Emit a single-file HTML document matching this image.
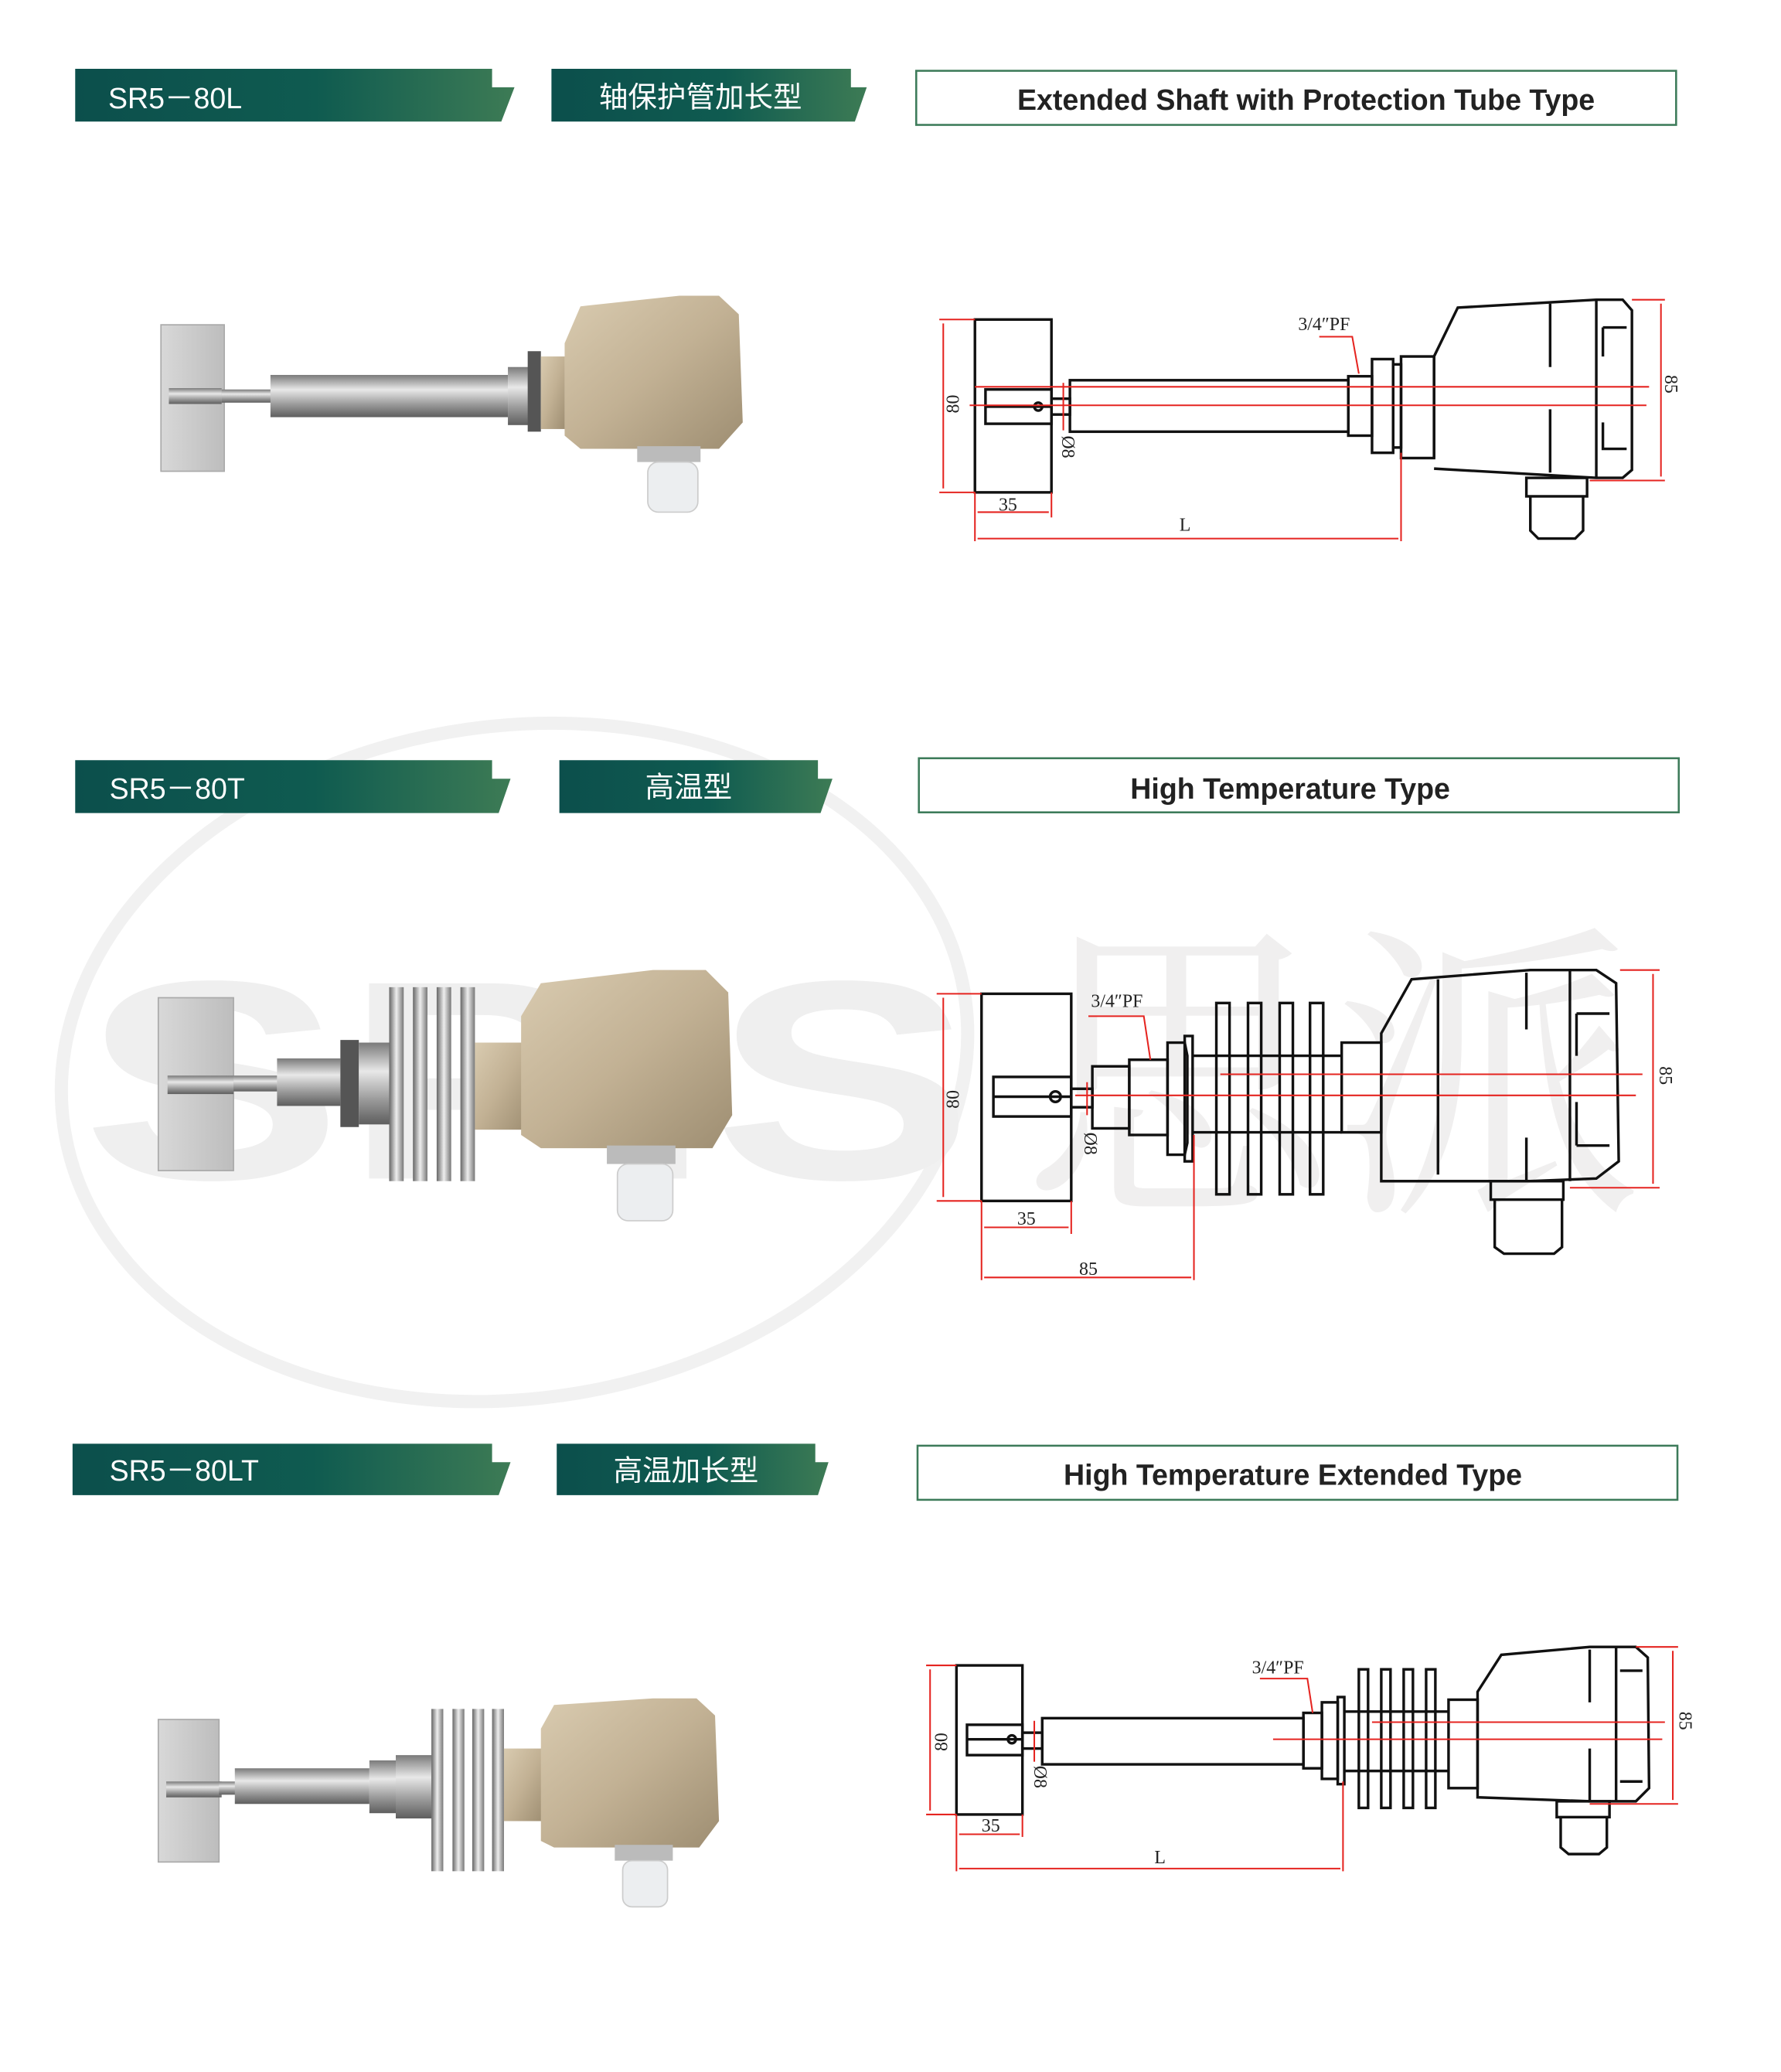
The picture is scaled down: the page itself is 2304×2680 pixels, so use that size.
<!DOCTYPE html>
<html><head><meta charset="utf-8"><style>
html,body{margin:0;padding:0;background:#fff;}
svg{display:block;}
.t{font-family:"Liberation Serif",serif;font-size:14px;fill:#222;}
</style></head><body>
<svg width="2304" height="2680" viewBox="0 0 1350 1570" xmlns="http://www.w3.org/2000/svg">
<defs>
<linearGradient id="bn" x1="0" x2="1" y1="0" y2="0"><stop offset="0" stop-color="#0c4f4c"/><stop offset="0.55" stop-color="#0f5b50"/><stop offset="1" stop-color="#3d7b55"/></linearGradient>
<linearGradient id="kh" x1="0" x2="1" y1="0" y2="1"><stop offset="0" stop-color="#d9cbb0"/><stop offset="0.5" stop-color="#c2b194"/><stop offset="1" stop-color="#9e8e72"/></linearGradient>
<linearGradient id="met" x1="0" x2="0" y1="0" y2="1"><stop offset="0" stop-color="#7a7a7a"/><stop offset="0.35" stop-color="#e8e8e8"/><stop offset="0.7" stop-color="#9a9a9a"/><stop offset="1" stop-color="#5e5e5e"/></linearGradient>
<linearGradient id="fin" x1="0" x2="1" y1="0" y2="0"><stop offset="0" stop-color="#666"/><stop offset="0.5" stop-color="#eee"/><stop offset="1" stop-color="#777"/></linearGradient>
<linearGradient id="pl" x1="0" x2="1"><stop offset="0" stop-color="#d8d8d8"/><stop offset="1" stop-color="#bdbdbd"/></linearGradient>
</defs>

<!-- watermark -->
<ellipse cx="390" cy="805" rx="345" ry="255" fill="none" stroke="#f1f1f1" stroke-width="10" transform="rotate(-8 390 805)"/>
<text transform="translate(62,893) scale(1.38,1)" font-family="Liberation Sans,sans-serif" font-weight="bold" font-size="215" fill="#efefef">SPIS</text>
<text x="775" y="900" font-family="Noto Serif CJK SC,serif" font-size="235" fill="#f0efef">思派</text>

<!-- banners -->
<g font-family="Liberation Sans,Noto Sans CJK SC,sans-serif" font-size="22" fill="#fff">
<polygon points="57,52 373,52 373,66 390,66 380,92 57,92" fill="url(#bn)"/><text x="82" y="82">SR5－80L</text>
<polygon points="418,52 645,52 645,66 657,66 648,92 418,92" fill="url(#bn)"/><text x="531" y="81" text-anchor="middle">轴保护管加长型</text>
<polygon points="57,576 373,576 373,590 387,590 378,616 57,616" fill="url(#bn)"/><text x="83" y="605">SR5－80T</text>
<polygon points="424,576 620,576 620,590 631,590 622,616 424,616" fill="url(#bn)"/><text x="522" y="604" text-anchor="middle">高温型</text>
<polygon points="55,1094 373,1094 373,1108 387,1108 378,1133 55,1133" fill="url(#bn)"/><text x="83" y="1122">SR5－80LT</text>
<polygon points="422,1094 618,1094 618,1108 628,1108 620,1133 422,1133" fill="url(#bn)"/><text x="520" y="1122" text-anchor="middle">高温加长型</text>
</g>
<g font-family="Liberation Sans,sans-serif" font-weight="bold" font-size="22" fill="#222" text-anchor="middle">
<rect x="694.5" y="53.5" width="576" height="41" fill="#fff" stroke="#3d7b5a" stroke-width="1.5"/><text x="990" y="83">Extended Shaft with Protection Tube Type</text>
<rect x="696.5" y="574.5" width="576" height="41" fill="#fff" stroke="#3d7b5a" stroke-width="1.5"/><text x="978" y="605">High Temperature Type</text>
<rect x="695.5" y="1095.5" width="576" height="41" fill="#fff" stroke="#3d7b5a" stroke-width="1.5"/><text x="980" y="1125">High Temperature Extended Type</text>
</g>

<!-- photo 1 -->
<rect x="122" y="246" width="48" height="111" fill="url(#pl)" stroke="#aaa"/>
<rect x="128" y="294" width="40" height="12" fill="url(#met)"/>
<rect x="168" y="295" width="40" height="10" fill="url(#met)"/>
<rect x="205" y="284" width="180" height="32" fill="url(#met)"/>
<rect x="385" y="278" width="16" height="44" fill="url(#met)"/>
<rect x="400" y="266" width="10" height="61" fill="#555"/>
<rect x="410" y="270" width="18" height="55" fill="url(#kh)"/>
<path d="M428,330 L428,260 L440,232 L515,224 L545,224 L560,238 L563,320 L545,340 L440,340 Z" fill="url(#kh)"/>
<rect x="483" y="338" width="48" height="12" fill="#bbb"/>
<rect x="491" y="350" width="38" height="38" rx="8" fill="#eceef0" stroke="#ccc"/>

<!-- photo 2 -->
<rect x="120" y="756" width="57" height="131" fill="url(#pl)" stroke="#aaa"/>
<rect x="127" y="815" width="50" height="14" fill="url(#met)"/>
<rect x="177" y="815" width="33" height="12" fill="url(#met)"/>
<rect x="210" y="802" width="48" height="36" fill="url(#met)"/>
<rect x="258" y="788" width="14" height="66" fill="#555"/>
<rect x="272" y="790" width="25" height="62" fill="url(#met)"/>
<g fill="url(#fin)"><rect x="295" y="748" width="11" height="147"/><rect x="313" y="748" width="11" height="147"/><rect x="331" y="748" width="11" height="147"/><rect x="349" y="748" width="11" height="147"/></g>
<rect x="360" y="790" width="40" height="66" fill="url(#kh)"/>
<path d="M395,860 L395,770 L410,745 L495,735 L535,735 L552,752 L555,845 L540,870 L410,870 Z" fill="url(#kh)"/>
<rect x="460" y="868" width="52" height="14" fill="#bbb"/>
<rect x="468" y="882" width="42" height="43" rx="8" fill="#eceef0" stroke="#ccc"/>

<!-- photo 3 -->
<rect x="120" y="1303" width="46" height="108" fill="url(#pl)" stroke="#aaa"/>
<rect x="126" y="1350" width="42" height="12" fill="url(#met)"/>
<rect x="166" y="1350" width="14" height="10" fill="url(#met)"/>
<rect x="178" y="1340" width="102" height="27" fill="url(#met)"/>
<rect x="280" y="1334" width="20" height="40" fill="url(#met)"/>
<rect x="300" y="1330" width="27" height="48" fill="url(#met)"/>
<g fill="url(#fin)"><rect x="327" y="1295" width="9" height="123"/><rect x="343" y="1295" width="9" height="123"/><rect x="358" y="1295" width="9" height="123"/><rect x="373" y="1295" width="9" height="123"/></g>
<rect x="382" y="1325" width="30" height="55" fill="url(#kh)"/>
<path d="M410,1395 L410,1310 L420,1292 L495,1287 L528,1287 L542,1300 L545,1380 L530,1400 L420,1400 Z" fill="url(#kh)"/>
<rect x="466" y="1398" width="44" height="12" fill="#bbb"/>
<rect x="472" y="1410" width="34" height="35" rx="7" fill="#eceef0" stroke="#ccc"/>

<!-- drawing 1 -->
<g fill="none" stroke="#111" stroke-width="2">
<rect x="739" y="242" width="58" height="131"/>
<rect x="747" y="295" width="50" height="26"/><line x1="747" y1="308" x2="797" y2="308"/>
<circle cx="787" cy="308" r="3"/>
<rect x="797" y="302" width="14" height="12"/>
<rect x="811" y="288" width="211" height="39"/>
<rect x="1022" y="285" width="18" height="45"/>
<rect x="1040" y="272" width="16" height="71"/><rect x="1056" y="276" width="6" height="63"/>
<rect x="1062" y="270" width="25" height="77"/>
<path d="M1087,347 L1087,270 L1105,233 L1210,227 L1230,227 L1237,235 L1237,356 L1230,362 L1210,362 L1087,355"/>
<line x1="1175" y1="230" x2="1175" y2="278"/><line x1="1175" y1="310" x2="1175" y2="358"/>
<line x1="1210" y1="227" x2="1210" y2="362"/>
<path d="M1215,248 L1233,248 M1215,270 L1215,248 M1215,320 L1215,340 L1233,340"/>
<rect x="1157" y="362" width="46" height="14"/>
<path d="M1160,376 L1160,402 L1166,408 L1194,408 L1200,402 L1200,376"/>
</g>
<g stroke="#e52420" stroke-width="1.2" fill="#e52420">
<line x1="739" y1="293" x2="1250" y2="293"/><line x1="735" y1="307" x2="1248" y2="307"/>
<line x1="712" y1="242" x2="739" y2="242"/><line x1="712" y1="373" x2="739" y2="373"/>
<line x1="715" y1="245" x2="715" y2="370"/>
<line x1="1237" y1="227" x2="1262" y2="227"/><line x1="1205" y1="364" x2="1262" y2="364"/>
<line x1="1259" y1="230" x2="1259" y2="361"/>
<line x1="739" y1="373" x2="739" y2="410"/><line x1="797" y1="373" x2="797" y2="392"/>
<line x1="1062" y1="343" x2="1062" y2="410"/>
<line x1="741" y1="388" x2="795" y2="388"/><line x1="741" y1="408" x2="1060" y2="408"/>
<polyline points="1000,255 1025,255 1030,283" fill="none"/>
<line x1="806" y1="290" x2="806" y2="326"/>
</g>
<text class="t" x="984" y="250">3/4″PF</text>
<text class="t" x="757" y="387">35</text>
<text class="t" x="894" y="402">L</text>
<text class="t" transform="translate(727,313) rotate(-90)">80</text>
<text class="t" transform="translate(1262,284) rotate(90)">85</text>
<text class="t" transform="translate(805,330) rotate(90)">Ø8</text>

<!-- drawing 2 -->
<g fill="none" stroke="#111" stroke-width="2">
<rect x="744" y="753" width="68" height="157"/>
<rect x="753" y="816" width="59" height="30"/><line x1="753" y1="831" x2="812" y2="831"/>
<circle cx="800" cy="831" r="4"/>
<rect x="812" y="825" width="16" height="14"/>
<rect x="828" y="808" width="28" height="47"/>
<rect x="856" y="803" width="29" height="57"/>
<path d="M885,790 L898,790 L900,800 L900,866 L898,875 L885,875 Z"/>
<rect x="898" y="785" width="6" height="95"/>
<line x1="904" y1="800" x2="1017" y2="800"/><line x1="904" y1="858" x2="1017" y2="858"/>
<rect x="922" y="760" width="10" height="145"/><rect x="946" y="760" width="10" height="145"/><rect x="970" y="760" width="10" height="145"/><rect x="993" y="760" width="10" height="145"/>
<rect x="1017" y="790" width="30" height="68"/>
<path d="M1047,895 L1047,783 L1070,742 L1160,735 L1210,735 L1225,745 L1227,880 L1210,893 L1160,895 Z"/>
<line x1="1090" y1="742" x2="1090" y2="890"/><line x1="1157" y1="737" x2="1157" y2="780"/><line x1="1157" y1="862" x2="1157" y2="895"/>
<line x1="1190" y1="735" x2="1190" y2="895"/>
<path d="M1195,768 L1220,768 M1195,868 L1220,868 M1195,768 L1195,800 M1195,835 L1195,868"/>
<rect x="1130" y="895" width="55" height="14"/>
<path d="M1133,909 L1133,945 L1140,950 L1178,950 L1184,945 L1184,909"/>
</g>
<g stroke="#e52420" stroke-width="1.2" fill="#e52420">
<line x1="925" y1="814" x2="1245" y2="814"/><line x1="815" y1="830" x2="1240" y2="830"/>
<line x1="710" y1="753" x2="744" y2="753"/><line x1="710" y1="910" x2="744" y2="910"/>
<line x1="715" y1="756" x2="715" y2="907"/>
<line x1="1228" y1="735" x2="1258" y2="735"/><line x1="1190" y1="900" x2="1258" y2="900"/>
<line x1="1253" y1="738" x2="1253" y2="897"/>
<line x1="744" y1="910" x2="744" y2="970"/><line x1="812" y1="910" x2="812" y2="935"/>
<line x1="905" y1="860" x2="905" y2="970"/>
<line x1="746" y1="930" x2="810" y2="930"/><line x1="746" y1="968" x2="903" y2="968"/>
<polyline points="825,770 867,770 872,803" fill="none"/>
<line x1="824" y1="820" x2="824" y2="845"/>
</g>
<text class="t" x="827" y="763">3/4″PF</text>
<text class="t" x="771" y="928">35</text>
<text class="t" x="818" y="966">85</text>
<text class="t" transform="translate(727,840) rotate(-90)">80</text>
<text class="t" transform="translate(1258,808) rotate(90)">85</text>
<text class="t" transform="translate(822,858) rotate(90)">Ø8</text>

<!-- drawing 3 -->
<g fill="none" stroke="#111" stroke-width="2">
<rect x="725" y="1262" width="50" height="113"/>
<rect x="733" y="1307" width="42" height="23"/><line x1="733" y1="1318" x2="775" y2="1318"/>
<circle cx="767" cy="1318" r="3"/>
<rect x="775" y="1313" width="15" height="12"/>
<rect x="790" y="1302" width="198" height="35"/>
<rect x="988" y="1298" width="14" height="42"/>
<rect x="1002" y="1290" width="12" height="58"/><rect x="1014" y="1286" width="5" height="66"/>
<line x1="1019" y1="1297" x2="1098" y2="1297"/><line x1="1019" y1="1342" x2="1098" y2="1342"/>
<rect x="1030" y="1265" width="7" height="105"/><rect x="1047" y="1265" width="7" height="105"/><rect x="1064" y="1265" width="7" height="105"/><rect x="1081" y="1265" width="7" height="105"/>
<rect x="1098" y="1288" width="22" height="67"/>
<path d="M1120,1362 L1120,1282 L1138,1254 L1205,1248 L1240,1248 L1249,1256 L1250,1355 L1240,1365 L1205,1365 Z"/>
<line x1="1205" y1="1250" x2="1205" y2="1290"/><line x1="1205" y1="1325" x2="1205" y2="1365"/>
<line x1="1225" y1="1248" x2="1225" y2="1365"/>
<path d="M1228,1266 L1245,1266 M1228,1350 L1245,1350"/>
<rect x="1180" y="1365" width="40" height="12"/>
<path d="M1183,1377 L1183,1400 L1189,1405 L1212,1405 L1218,1400 L1218,1377"/>
</g>
<g stroke="#e52420" stroke-width="1.2" fill="#e52420">
<line x1="1040" y1="1305" x2="1262" y2="1305"/><line x1="965" y1="1318" x2="1260" y2="1318"/>
<line x1="702" y1="1262" x2="725" y2="1262"/><line x1="702" y1="1375" x2="725" y2="1375"/>
<line x1="705" y1="1265" x2="705" y2="1372"/>
<line x1="1240" y1="1248" x2="1272" y2="1248"/><line x1="1205" y1="1367" x2="1272" y2="1367"/>
<line x1="1268" y1="1251" x2="1268" y2="1364"/>
<line x1="725" y1="1375" x2="725" y2="1418"/><line x1="775" y1="1375" x2="775" y2="1392"/>
<line x1="1018" y1="1350" x2="1018" y2="1418"/>
<line x1="727" y1="1390" x2="773" y2="1390"/><line x1="727" y1="1416" x2="1016" y2="1416"/>
<polyline points="955,1272 991,1272 995,1298" fill="none"/>
<line x1="784" y1="1304" x2="784" y2="1335"/>
</g>
<text class="t" x="949" y="1268">3/4″PF</text>
<text class="t" x="744" y="1388">35</text>
<text class="t" x="875" y="1412">L</text>
<text class="t" transform="translate(718,1327) rotate(-90)">80</text>
<text class="t" transform="translate(1273,1297) rotate(90)">85</text>
<text class="t" transform="translate(784,1338) rotate(90)">Ø8</text>
</svg>
</body></html>
